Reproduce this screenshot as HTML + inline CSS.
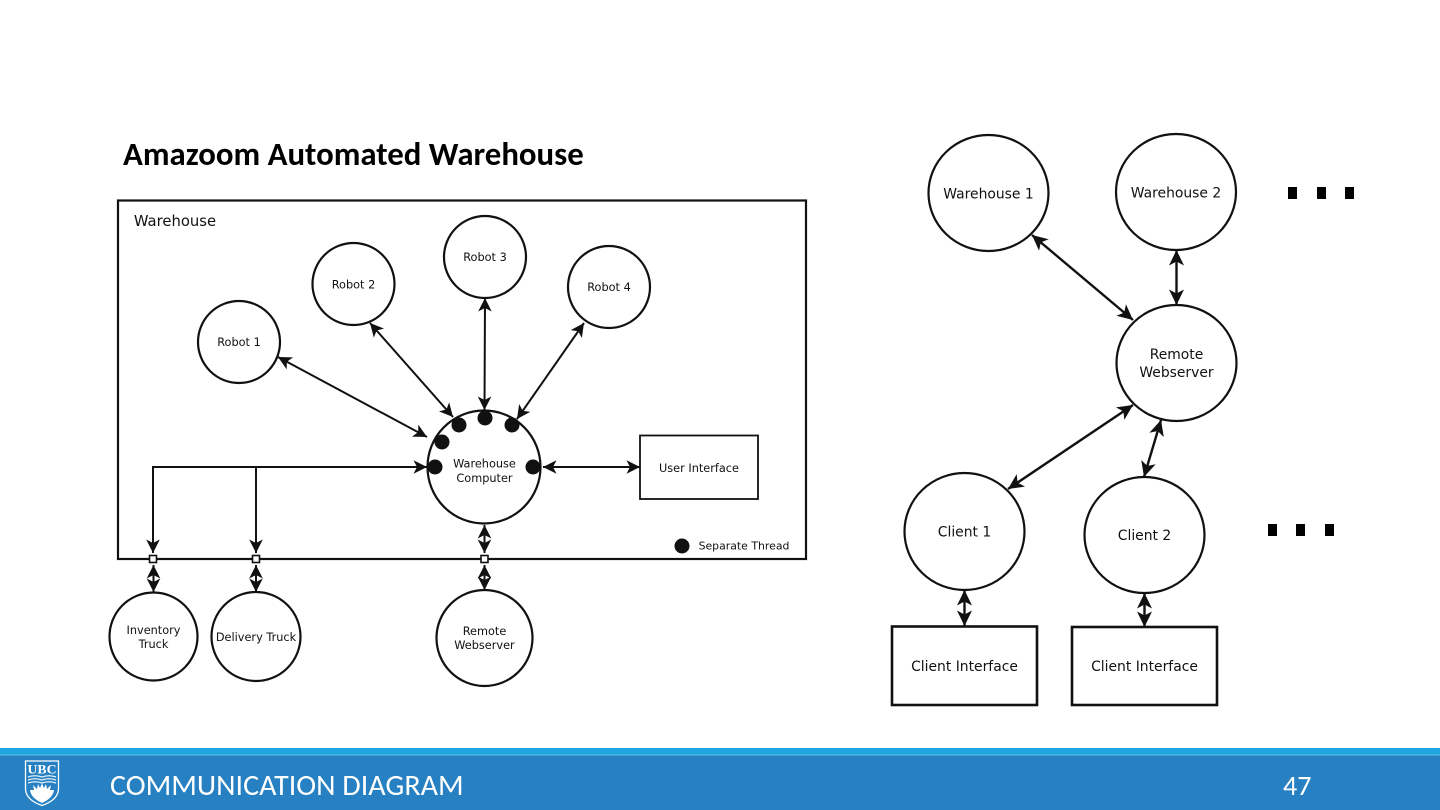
<!DOCTYPE html>
<html lang="en"><head><meta charset="utf-8"><title>Communication Diagram</title>
<style>
html,body{margin:0;padding:0;background:#fff;width:1440px;height:810px;overflow:hidden}
svg{display:block}
.d{font-family:"DejaVu Sans",sans-serif;fill:#111;text-anchor:middle}
.n{stroke:#111;stroke-width:2.2;fill:#fff}
.r{stroke:#111;stroke-width:2.6;fill:#fff}
.a{stroke:#111;stroke-width:2;fill:none;marker-start:url(#m);marker-end:url(#m)}
.e{stroke:#111;stroke-width:2;fill:none;marker-end:url(#m)}
.b{stroke:#111;stroke-width:2.400;fill:none;marker-start:url(#m2);marker-end:url(#m2)}
.t{font-size:11.300px}
.u{font-size:13.900px}
</style></head><body>
<svg width="1440" height="810" viewBox="0 0 1440 810" xmlns="http://www.w3.org/2000/svg">
<defs>
<marker id="m" markerUnits="userSpaceOnUse" viewBox="-15 -8 16 16" refX="0" refY="0" markerWidth="16" markerHeight="16" orient="auto-start-reverse"><path d="M0,0 L-13.500,-6.800 L-10,0 L-13.500,6.800 Z" fill="#111"/></marker>
<marker id="m2" markerUnits="userSpaceOnUse" viewBox="-17 -9 18 18" refX="0" refY="0" markerWidth="18" markerHeight="18" orient="auto-start-reverse"><path d="M0,0 L-15.500,-7.500 L-11.500,0 L-15.500,7.500 Z" fill="#111"/></marker>
</defs>
<rect width="1440" height="810" fill="#fff"/>

<text x="123" y="165" font-family="'Carlito','Liberation Sans',sans-serif" font-weight="700" font-size="32.800" fill="#000">Amazoom Automated Warehouse</text>

<!-- Warehouse -->
<rect x="118" y="200.500" width="688" height="358.500" fill="#fff" stroke="#111" stroke-width="2.200"/>
<text class="d" x="175" y="226" font-size="14.800">Warehouse</text>

<circle class="n" cx="239" cy="342" r="41"/><text class="d t" x="239" y="346">Robot 1</text>
<circle class="n" cx="353.500" cy="284" r="41"/><text class="d t" x="353.500" y="288.500">Robot 2</text>
<circle class="n" cx="485" cy="257" r="41"/><text class="d t" x="485" y="261">Robot 3</text>
<circle class="n" cx="609" cy="287" r="41"/><text class="d t" x="609" y="291">Robot 4</text>
<circle class="n" cx="484" cy="467" r="56.500"/>
<text class="d t" x="484.500" y="467.500">Warehouse</text><text class="d t" x="484.500" y="482">Computer</text>
<rect x="640" y="435.500" width="118" height="63.500" fill="#fff" stroke="#111" stroke-width="1.800"/>
<text class="d t" x="699" y="472">User Interface</text>

<line class="a" x1="278" y1="357" x2="427" y2="437"/>
<line class="a" x1="370" y1="323" x2="453" y2="417"/>
<line class="a" x1="485" y1="298" x2="484.500" y2="410"/>
<line class="a" x1="584" y1="323" x2="517" y2="419"/>
<path class="a" d="M153,553 L153,467 L427,467"/>
<line class="e" x1="256" y1="467" x2="256" y2="553"/>
<line class="a" x1="543" y1="467" x2="640" y2="467"/>
<line class="a" x1="484.500" y1="525" x2="484.500" y2="553"/>
<line class="a" x1="153.500" y1="565" x2="153.500" y2="592"/>
<line class="a" x1="256" y1="565" x2="256" y2="592"/>
<line class="a" x1="484.500" y1="565" x2="484.500" y2="590"/>

<g fill="#111">
<circle cx="459" cy="425" r="7.500"/><circle cx="485" cy="418" r="7.500"/><circle cx="512" cy="425" r="7.500"/>
<circle cx="442" cy="442" r="7.500"/><circle cx="435" cy="467" r="7.500"/><circle cx="533" cy="467" r="7.500"/>
<circle cx="682" cy="546" r="7.500"/>
</g>
<text class="d" x="744" y="549.500" font-size="10.900">Separate Thread</text>

<g fill="#fff" stroke="#111" stroke-width="1.600">
<rect x="149.500" y="555.500" width="7" height="7"/><rect x="252.500" y="555.500" width="7" height="7"/><rect x="481" y="555.500" width="7" height="7"/>
</g>

<circle class="n" cx="153.500" cy="636.500" r="44"/>
<text class="d t" x="153.500" y="634">Inventory</text><text class="d t" x="153.500" y="648">Truck</text>
<circle class="n" cx="256" cy="636.500" r="44.500"/>
<text class="d t" x="256" y="641">Delivery Truck</text>
<circle class="n" cx="484.500" cy="638" r="48"/>
<text class="d t" x="484.500" y="635">Remote</text><text class="d t" x="484.500" y="649">Webserver</text>

<!-- Right -->
<ellipse class="n" cx="988.500" cy="193" rx="60" ry="58"/><text class="d u" x="988.500" y="198.500">Warehouse 1</text>
<ellipse class="n" cx="1176" cy="192" rx="60" ry="58"/><text class="d u" x="1176" y="197.500">Warehouse 2</text>
<ellipse class="n" cx="1176.500" cy="363" rx="60" ry="58"/>
<text class="d u" x="1176.500" y="359">Remote</text><text class="d u" x="1176.500" y="377">Webserver</text>
<ellipse class="n" cx="964.500" cy="531.500" rx="60" ry="58.500"/><text class="d u" x="964.500" y="536.500">Client 1</text>
<ellipse class="n" cx="1144.500" cy="535" rx="60" ry="58"/><text class="d u" x="1144.500" y="540">Client 2</text>
<rect class="r" x="892" y="626.500" width="145" height="78.500"/><text class="d u" x="964.500" y="671">Client Interface</text>
<rect class="r" x="1072" y="627" width="145" height="78"/><text class="d u" x="1144.500" y="671">Client Interface</text>

<line class="b" x1="1032" y1="235" x2="1133" y2="320"/>
<line class="b" x1="1176.500" y1="250" x2="1176.500" y2="305"/>
<line class="b" x1="1133" y1="405" x2="1008" y2="489"/>
<line class="b" x1="1161" y1="420" x2="1144" y2="477"/>
<line class="b" x1="964.500" y1="590" x2="964.500" y2="626"/>
<line class="b" x1="1144.500" y1="593" x2="1144.500" y2="627"/>

<g fill="#000">
<rect x="1288" y="187" width="9" height="12"/><rect x="1317" y="187" width="9" height="12"/><rect x="1345" y="187" width="9" height="12"/>
<rect x="1268" y="524" width="9" height="12"/><rect x="1296" y="524" width="9" height="12"/><rect x="1325" y="524" width="9" height="12"/>
</g>

<!-- Footer -->
<rect x="0" y="748" width="1440" height="62" fill="#2680c2"/>
<rect x="0" y="748" width="1440" height="6.500" fill="#1ea6e0"/>
<rect x="0" y="754.500" width="1440" height="1" fill="#6fc0ea"/>
<g>
<path d="M25.500,761 H58.500 V789 Q58,800 42,805.500 Q26,800 25.500,789 Z" fill="#2680c2" stroke="#fff" stroke-width="1.300"/>
<text x="42" y="773.500" text-anchor="middle" font-family="'Liberation Serif',serif" font-size="13" font-weight="700" fill="#fff" textLength="29" lengthAdjust="spacingAndGlyphs">UBC</text>
<path d="M28,777 Q35,774.500 42,777 Q49,774.500 56,777 M28,780 Q35,777.500 42,780 Q49,777.500 56,780 M28,783 Q35,780.500 42,783 Q49,780.500 56,783" fill="none" stroke="#e6f3fb" stroke-width="1.200"/>
<path d="M30,790 L34,790 L33,785 L37,789 L38,784 L40,788 L42,783.500 L44,788 L46,784 L47,789 L51,785 L50,790 L54,790 Q53,798 42,803 Q31,798 30,790 Z" fill="#fff"/>
</g>
<text x="110" y="795" font-family="'Carlito','Liberation Sans',sans-serif" font-size="30" fill="#fff">COMMUNICATION DIAGRAM</text>
<text x="1283" y="795" font-family="'Carlito','Liberation Sans',sans-serif" font-size="28" fill="#fff">47</text>
</svg>
</body></html>
